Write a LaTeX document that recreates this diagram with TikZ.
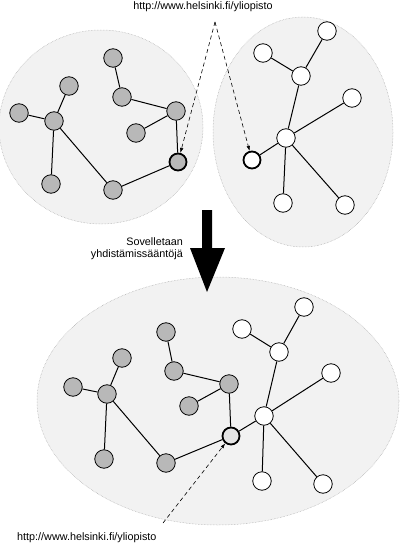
\documentclass[tikz,border=0pt]{standalone}
\usepackage{fontspec}
\setmainfont{Liberation Sans}
\usetikzlibrary{arrows.meta}
\definecolor{blobfill}{HTML}{F2F2F2}
\definecolor{nodegray}{HTML}{B8B8B8}
\definecolor{mergefill}{HTML}{E4E4E4}
\begin{document}
\begin{tikzpicture}[x=1pt,y=-1pt,
  blob/.style={fill=blobfill,draw=black!35,densely dotted,line width=0.5pt},
  gnode/.style={circle,draw=black,fill=nodegray,minimum size=18.5pt,inner sep=0pt,line width=0.8pt},
  wnode/.style={circle,draw=black,fill=white,minimum size=18.5pt,inner sep=0pt,line width=0.8pt},
  keynode/.style={line width=1.8pt,minimum size=17pt},
  edge/.style={line width=1pt},
  urlarrow/.style={dash pattern=on 4pt off 3pt,line width=0.6pt,-{Latex[length=5pt,width=3.5pt]}},
  lbl/.style={font=\fontsize{10.8}{12}\selectfont,inner sep=0pt}]
\useasboundingbox (0,0) rectangle (400,545);
% blobs
\path[blob] (101,127) ellipse [x radius=102, y radius=97];
\path[blob] (303,132) ellipse [x radius=90, y radius=115];
\path[blob] (218,401) ellipse [x radius=181, y radius=124];
% left graph
\node[gnode] (A) at (113,58) {};
\node[gnode] (B) at (69,86) {};
\node[gnode] (C) at (122,97) {};
\node[gnode] (D) at (176,111) {};
\node[gnode] (E) at (19,113) {};
\node[gnode] (F) at (54,121) {};
\node[gnode] (G) at (136,133) {};
\node[gnode,keynode] (H) at (178,162) {};
\node[gnode] (I) at (51,184) {};
\node[gnode] (J) at (113,190) {};
\draw[edge] (A)--(C) (C)--(D) (D)--(G) (D)--(H) (B)--(F) (E)--(F) (F)--(I) (F)--(J) (J)--(H);
% right graph
\node[wnode] (a) at (327,31) {};
\node[wnode] (b) at (263,53) {};
\node[wnode] (c) at (301,76) {};
\node[wnode] (d) at (352,98) {};
\node[wnode] (e) at (286,138) {};
\node[wnode,keynode] (f) at (252,160) {};
\node[wnode] (g) at (283,203) {};
\node[wnode] (h) at (345,205) {};
\draw[edge] (a)--(c) (b)--(c) (c)--(e) (d)--(e) (e)--(f) (e)--(g) (e)--(h);
% top url
\node[lbl] (url1) at (203,7) {http://www.helsinki.fi/yliopisto};
\coordinate (split) at (215,22);
\draw[urlarrow] (split) -- (H);
\draw[urlarrow] (split) -- (f);
% big arrow
\fill[black] (202,210) -- (212,210) -- (212,248) -- (225,248) -- (207,292) -- (190,248) -- (202,248) -- cycle;
\node[lbl,anchor=east,align=right] (rule) at (183,249) {Sovelletaan\\yhdistämissääntöjä};
% bottom graph
\node[gnode] (P1) at (166,332) {};
\node[gnode] (P2) at (122,358) {};
\node[gnode] (P3) at (174,371) {};
\node[gnode] (P4) at (229,384) {};
\node[gnode] (P5) at (73,387) {};
\node[gnode] (P6) at (107,394) {};
\node[gnode] (P7) at (189,406) {};
\node[gnode] (P8) at (104,459) {};
\node[gnode] (P9) at (166,463) {};
\node[gnode,keynode,fill=mergefill] (Q) at (231,436) {};
\node[wnode] (W1) at (304,307) {};
\node[wnode] (W2) at (242,329) {};
\node[wnode] (W3) at (279,352) {};
\node[wnode] (W4) at (331,373) {};
\node[wnode] (W5) at (264,416) {};
\node[wnode] (W6) at (262,481) {};
\node[wnode] (W7) at (323,484) {};
\draw[edge] (P1)--(P3) (P3)--(P4) (P4)--(P7) (P4)--(Q) (P2)--(P6) (P5)--(P6) (P6)--(P8) (P6)--(P9) (P9)--(Q) (Q)--(W5)
  (W1)--(W3) (W2)--(W3) (W3)--(W5) (W4)--(W5) (W5)--(W6) (W5)--(W7);
% bottom url
\node[lbl,anchor=west] (url2) at (17,538) {http://www.helsinki.fi/yliopisto};
\coordinate (tail) at (163,523);
\draw[urlarrow] (tail) -- (Q);
\end{tikzpicture}
\end{document}
